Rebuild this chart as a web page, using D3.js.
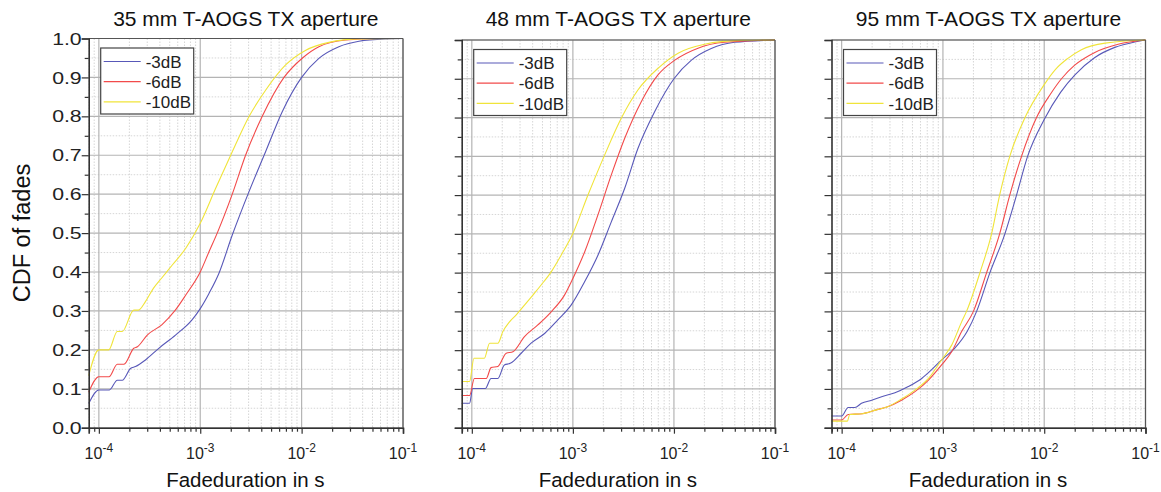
<!DOCTYPE html>
<html>
<head>
<meta charset="utf-8">
<script src="https://cdn.jsdelivr.net/npm/d3@7/dist/d3.min.js"></script>
<style>
  html, body { margin: 0; padding: 0; background: #fff; }
  svg { display: block; font-family: "Liberation Sans", Arial, sans-serif; }
</style>
</head>
<body>
<svg id="chart" width="1161" height="492"></svg>
<script>
// ---------------- DATA ----------------
const panelTitles = ["35 mm T-AOGS TX aperture", "48 mm T-AOGS TX aperture", "95 mm T-AOGS TX aperture"];
const seriesNames = ["-3dB", "-6dB", "-10dB"];
const xDomain = [7.94e-5, 0.1];
const xMajorTicks = [1e-4, 1e-3, 1e-2, 1e-1];
const xTickExponents = ["-4", "-3", "-2", "-1"];
const yMajorTicks = [0, 0.1, 0.2, 0.3, 0.4, 0.5, 0.6, 0.7, 0.8, 0.9, 1.0];
const yTickLabels = ["0.0", "0.1", "0.2", "0.3", "0.4", "0.5", "0.6", "0.7", "0.8", "0.9", "1.0"];
const yMinorTicks = [0.05, 0.15, 0.25, 0.35, 0.45, 0.55, 0.65, 0.75, 0.85, 0.95];

// 35 mm aperture: [fade duration (s), CDF]
const p35_3dB = [[7.94e-5,0.062],[1.0e-4,0.097],[1.27e-4,0.097],[1.52e-4,0.122],[1.70e-4,0.122],[2.05e-4,0.152],[2.3e-4,0.157],[2.88e-4,0.174],[3.9e-4,0.204],[5.7e-4,0.238],[8.3e-4,0.277],[1.0e-3,0.306],[1.22e-3,0.345],[1.53e-3,0.397],[2.07e-3,0.495],[3.02e-3,0.606],[4.41e-3,0.709],[6.44e-3,0.812],[1.0e-2,0.90],[1.48e-2,0.949],[2.33e-2,0.979],[3.68e-2,0.993],[6.75e-2,0.999],[0.1,1.0]];
const p35_6dB = [[7.94e-5,0.091],[1.0e-4,0.131],[1.26e-4,0.131],[1.52e-4,0.163],[1.77e-4,0.163],[2.21e-4,0.204],[2.4e-4,0.208],[3.0e-4,0.238],[4.2e-4,0.265],[5.6e-4,0.30],[7.2e-4,0.341],[1.0e-3,0.40],[1.22e-3,0.452],[1.47e-3,0.50],[2.07e-3,0.60],[2.8e-3,0.70],[4.09e-3,0.80],[6.7e-3,0.90],[1.02e-2,0.95],[1.48e-2,0.979],[2.72e-2,0.996],[5.5e-2,1.0],[0.1,1.0]];
const p35_10dB = [[7.94e-5,0.134],[1.0e-4,0.20],[1.25e-4,0.20],[1.52e-4,0.247],[1.70e-4,0.247],[2.21e-4,0.302],[2.45e-4,0.302],[2.88e-4,0.324],[3.45e-4,0.358],[4.15e-4,0.384],[5.3e-4,0.418],[7.2e-4,0.461],[1.0e-3,0.525],[1.42e-3,0.615],[2.07e-3,0.709],[3.02e-3,0.799],[4.41e-3,0.867],[6.95e-3,0.932],[1.1e-2,0.970],[1.86e-2,0.99],[3.7e-2,0.999],[0.1,1.0]];

// 48 mm aperture
const p48_3dB = [[7.94e-5,0.063],[9.5e-5,0.063],[1.02e-4,0.101],[1.36e-4,0.101],[1.55e-4,0.127],[1.81e-4,0.127],[2.1e-4,0.162],[2.4e-4,0.166],[3.08e-4,0.192],[3.86e-4,0.218],[5.25e-4,0.243],[7.1e-4,0.278],[9.6e-4,0.316],[1.31e-3,0.377],[1.77e-3,0.445],[2.4e-3,0.531],[3.25e-3,0.617],[4.4e-3,0.72],[6.44e-3,0.815],[1.0e-2,0.90],[1.49e-2,0.948],[2.34e-2,0.978],[3.98e-2,0.994],[0.1,1.0]];
const p48_6dB = [[7.94e-5,0.083],[9.5e-5,0.083],[1.06e-4,0.127],[1.39e-4,0.127],[1.55e-4,0.155],[1.81e-4,0.158],[2.19e-4,0.192],[2.55e-4,0.196],[3.32e-4,0.235],[4.5e-4,0.265],[6.1e-4,0.299],[8.26e-4,0.342],[1.0e-3,0.385],[1.31e-3,0.454],[1.77e-3,0.549],[2.4e-3,0.652],[3.25e-3,0.746],[4.75e-3,0.841],[6.95e-3,0.91],[1.02e-2,0.948],[1.73e-2,0.979],[3.16e-2,0.994],[0.1,1.0]];
const p48_10dB = [[7.94e-5,0.119],[9.5e-5,0.119],[1.05e-4,0.179],[1.33e-4,0.179],[1.5e-4,0.218],[1.81e-4,0.218],[2.03e-4,0.248],[2.36e-4,0.273],[2.75e-4,0.291],[3.32e-4,0.316],[4.02e-4,0.342],[4.85e-4,0.368],[6.1e-4,0.402],[7.65e-4,0.445],[1.0e-3,0.501],[1.41e-3,0.60],[2.06e-3,0.703],[3.01e-3,0.798],[4.4e-3,0.871],[6.95e-3,0.927],[1.1e-2,0.966],[2.01e-2,0.989],[4.5e-2,0.999],[0.1,1.0]];

// 95 mm aperture
const p95_3dB = [[7.94e-5,0.030],[1.0e-4,0.030],[1.16e-4,0.052],[1.35e-4,0.052],[1.57e-4,0.063],[1.98e-4,0.071],[2.48e-4,0.080],[3.36e-4,0.090],[4.55e-4,0.106],[6.17e-4,0.127],[7.7e-4,0.149],[9.7e-4,0.175],[1.31e-3,0.205],[1.75e-3,0.25],[2.15e-3,0.30],[2.91e-3,0.40],[4.09e-3,0.50],[5.33e-3,0.60],[6.85e-3,0.70],[1.0e-2,0.795],[1.45e-2,0.865],[2.01e-2,0.91],[3.16e-2,0.955],[4.98e-2,0.981],[7.85e-2,0.995],[0.1,1.0]];
const p95_6dB = [[7.94e-5,0.020],[1.0e-4,0.020],[1.16e-4,0.034],[1.6e-4,0.036],[2.2e-4,0.046],[2.84e-4,0.054],[3.9e-4,0.071],[5.3e-4,0.093],[7.2e-4,0.123],[9.7e-4,0.162],[1.22e-3,0.196],[1.53e-3,0.248],[2.0e-3,0.30],[2.7e-3,0.40],[3.63e-3,0.50],[4.57e-3,0.60],[5.97e-3,0.70],[8.4e-3,0.80],[1.15e-2,0.86],[1.48e-2,0.90],[2.0e-2,0.935],[3.16e-2,0.968],[5.37e-2,0.989],[0.1,1.0]];
const p95_10dB = [[7.94e-5,0.017],[1.14e-4,0.017],[1.2e-4,0.034],[1.6e-4,0.036],[2.2e-4,0.046],[2.84e-4,0.054],[3.9e-4,0.074],[5.3e-4,0.097],[7.2e-4,0.127],[9.7e-4,0.175],[1.22e-3,0.213],[1.53e-3,0.273],[1.71e-3,0.30],[2.32e-3,0.40],[3.02e-3,0.50],[3.63e-3,0.60],[4.57e-3,0.70],[6.46e-3,0.80],[1.0e-2,0.885],[1.3e-2,0.925],[1.7e-2,0.952],[2.33e-2,0.975],[3.98e-2,0.992],[0.1,1.0]];

const panelSeries = [
  [p35_3dB, p35_6dB, p35_10dB],
  [p48_3dB, p48_6dB, p48_10dB],
  [p95_3dB, p95_6dB, p95_10dB]
];
const seriesColors = ["#5858b8", "#f24a4a", "#f0e43a"];

// ---------------- LAYOUT ----------------
const panels = [
  {left: 88.7, right: 403, top: 38.5, bottom: 427.7, yLabels: true},
  {left: 461.7, right: 775, top: 40, bottom: 427.7, yLabels: false},
  {left: 831.5, right: 1145.5, top: 40, bottom: 427.7, yLabels: false}
];

const svg = d3.select("#chart");

// minor x ticks
const xMinorTicks = [];
for (let e = -5; e <= -2; e++) {
  for (let k = 2; k <= 9; k++) {
    const v = k * Math.pow(10, e);
    if (v >= xDomain[0] * 0.999 && v <= xDomain[1]) xMinorTicks.push(v);
  }
}

panels.forEach((p, pi) => {
  const x = d3.scaleLog().domain(xDomain).range([p.left, p.right]);
  const y = d3.scaleLinear().domain([0, 1]).range([p.bottom, p.top]);
  const g = svg.append("g");

  // minor grid
  g.append("g").selectAll("line").data(xMinorTicks).join("line")
    .attr("x1", d => x(d)).attr("x2", d => x(d))
    .attr("y1", p.top).attr("y2", p.bottom)
    .attr("stroke", "#d6d6d6").attr("stroke-width", 1).attr("stroke-dasharray", "1.5,1.5");
  g.append("g").selectAll("line").data(yMinorTicks).join("line")
    .attr("x1", p.left).attr("x2", p.right)
    .attr("y1", d => y(d)).attr("y2", d => y(d))
    .attr("stroke", "#d6d6d6").attr("stroke-width", 1).attr("stroke-dasharray", "1.5,1.5");
  // major grid
  g.append("g").selectAll("line").data(xMajorTicks).join("line")
    .attr("x1", d => x(d)).attr("x2", d => x(d))
    .attr("y1", p.top).attr("y2", p.bottom)
    .attr("stroke", "#b4b4b4").attr("stroke-width", 1.2);
  g.append("g").selectAll("line").data(yMajorTicks).join("line")
    .attr("x1", p.left).attr("x2", p.right)
    .attr("y1", d => y(d)).attr("y2", d => y(d))
    .attr("stroke", "#b4b4b4").attr("stroke-width", 1.2);

  // series lines
  const line = d3.line().x(d => x(d[0])).y(d => y(d[1])).curve(d3.curveMonotoneX);
  panelSeries[pi].forEach((s, si) => {
    g.append("path").datum(s)
      .attr("fill", "none")
      .attr("stroke", seriesColors[si])
      .attr("stroke-width", 1.1)
      .attr("d", line);
  });

  // frame top/right
  g.append("line").attr("x1", p.left).attr("x2", p.right).attr("y1", p.top).attr("y2", p.top)
    .attr("stroke", "#555").attr("stroke-width", 1.2);
  g.append("line").attr("x1", p.right).attr("x2", p.right).attr("y1", p.top).attr("y2", p.bottom)
    .attr("stroke", "#555").attr("stroke-width", 1.2);

  // x axis
  const xAxisMajor = d3.axisBottom(x).tickValues(xMajorTicks).tickSize(6).tickFormat("");
  const xAxisMinor = d3.axisBottom(x).tickValues(xMinorTicks).tickSize(4).tickFormat("");
  const gxm = g.append("g").attr("transform", `translate(0,${p.bottom})`).call(xAxisMinor);
  gxm.select(".domain").remove();
  const gx = g.append("g").attr("transform", `translate(0,${p.bottom})`).call(xAxisMajor);
  gx.select(".domain").attr("stroke", "#333").attr("stroke-width", 1.6);
  g.selectAll(".tick line").attr("stroke", "#333").attr("stroke-width", 1.2);

  const xl = g.append("g").selectAll("text").data(xMajorTicks).join("text")
    .attr("x", d => x(d)).attr("y", p.bottom + 31)
    .attr("text-anchor", "middle").attr("font-size", 16).attr("fill", "#222");
  xl.append("tspan").text("10");
  xl.append("tspan").attr("dy", -7).attr("font-size", 12).text((d, i) => xTickExponents[i]);

  // y axis
  const yAxisMinor = d3.axisLeft(y).tickValues(yMinorTicks).tickSize(4).tickFormat("");
  const yAxisMajor = d3.axisLeft(y).tickValues(yMajorTicks).tickSize(7).tickFormat("");
  const gym = g.append("g").attr("transform", `translate(${p.left},0)`).call(yAxisMinor);
  gym.select(".domain").remove();
  const gy = g.append("g").attr("transform", `translate(${p.left},0)`).call(yAxisMajor);
  gy.select(".domain").attr("stroke", "#333").attr("stroke-width", 1.6);
  g.selectAll(".tick line").attr("stroke", "#333").attr("stroke-width", 1.2);

  if (p.yLabels) {
    g.append("g").selectAll("text").data(yMajorTicks).join("text")
      .attr("transform", d => `translate(${p.left - 7},${y(d)}) scale(1.25,1)`)
      .attr("dy", "0.36em")
      .attr("text-anchor", "end").attr("font-size", 17).attr("fill", "#222")
      .text((d, i) => yTickLabels[i]);
  }

  // title
  g.append("text").attr("x", (p.left + p.right) / 2).attr("y", 25.5)
    .attr("text-anchor", "middle").attr("font-size", 21).attr("fill", "#111")
    .text(panelTitles[pi]);

  // x axis label
  g.append("text").attr("x", (p.left + p.right) / 2 - 0.5).attr("y", 487)
    .attr("text-anchor", "middle").attr("font-size", 20.5).attr("fill", "#111")
    .text("Fadeduration in s");

  // legend
  const lx = p.left + 12, ly = p.top + 9.5;
  const lg = g.append("g").attr("transform", `translate(${lx},${ly})`);
  lg.append("rect").attr("x", 0).attr("y", 0).attr("width", 93).attr("height", 66)
    .attr("fill", "#fff").attr("stroke", "#444").attr("stroke-width", 1.2);
  seriesNames.forEach((n, si) => {
    const yy = 13.5 + si * 20.2;
    lg.append("line").attr("x1", 3).attr("x2", 40).attr("y1", yy).attr("y2", yy)
      .attr("stroke", seriesColors[si]).attr("stroke-width", 1.2);
    lg.append("text").attr("x", 45).attr("y", yy).attr("dy", "0.36em")
      .attr("font-size", 17).attr("fill", "#222").text(n);
  });
});

// y axis label
svg.append("text")
  .attr("transform", `translate(30,233) rotate(-90)`)
  .attr("text-anchor", "middle").attr("font-size", 23.5).attr("fill", "#111")
  .text("CDF of fades");
</script>
</body>
</html>
